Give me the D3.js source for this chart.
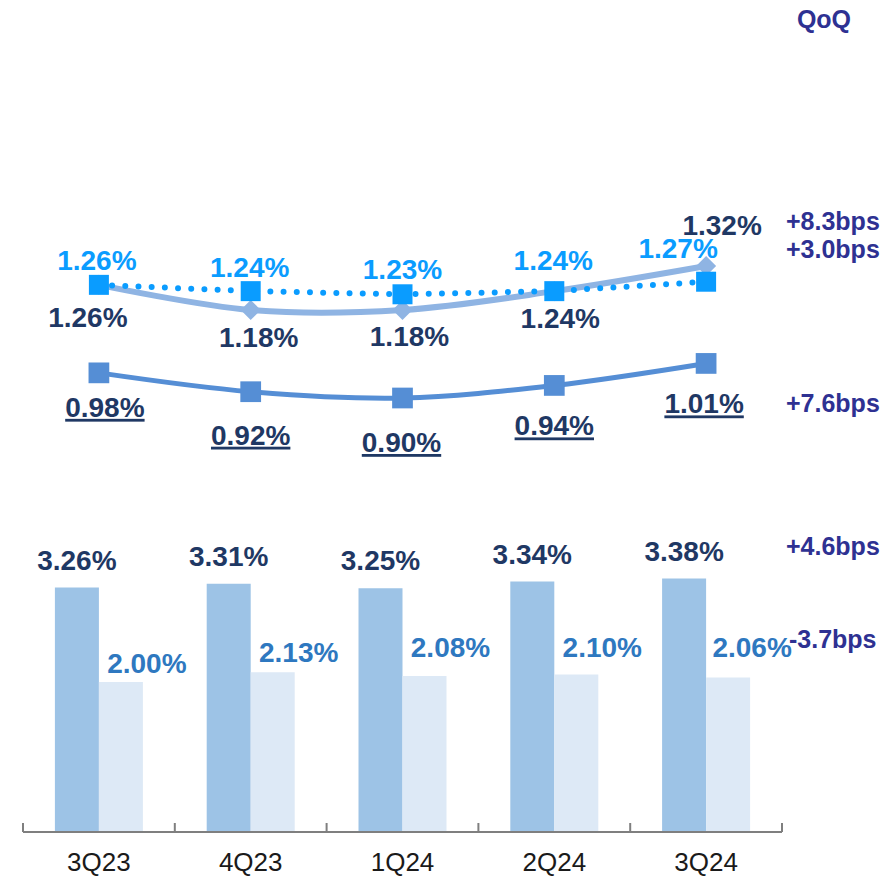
<!DOCTYPE html>
<html>
<head>
<meta charset="utf-8">
<script src="https://cdn.jsdelivr.net/npm/d3@7"></script>
<style>
  body { margin: 0; background: #fff; }
  svg { display: block; font-family: "Liberation Sans", Arial, sans-serif; }
</style>
</head>
<body>
<div id="chart"></div>
<script>
// data
const quarters = ["3Q23", "4Q23", "1Q24", "2Q24", "3Q24"]
const rateA = [1.26, 1.24, 1.23, 1.24, 1.27]   // dotted bright blue, squares
const rateB = [1.26, 1.18, 1.18, 1.24, 1.32]   // light solid line, diamonds
const rateC = [0.98, 0.92, 0.90, 0.94, 1.01]   // solid line, underlined labels
const barDark = [3.26, 3.31, 3.25, 3.34, 3.38]
const barLight = [2.00, 2.13, 2.08, 2.10, 2.06]
const qoqText = ["+8.3bps", "+3.0bps", "+7.6bps", "+4.6bps", "-3.7bps"]

const fmt = d => d.toFixed(2) + "%"

// label nudges (px) so labels sit like on the slide
const nudgeA = { dx: [-2, -1, 0, -1, -28], dy: [-15, -14, -15, -21, -24] }
const nudgeB = { dx: [-11, 8, 7, 6, 16], dy: [42, 37, 36, 37, -31] }
const nudgeC = { dx: [6, 0, -1, 0, -2], dy: [44, 53, 54, 50, 50] }
const nudgeLight = { dx: [26, 26, 26, 26, 24], dy: [-9, -10, -19, -18, -21] }

const params = {
  width: 891,
  height: 877,
  axisY: 832,
  left: 23,
  right: 782
}

const colors = {
  navy: "#1f3864",
  brightBlue: "#0a9cff",
  lineB: "#8fb4e3",
  lineC: "#558ed5",
  barDark: "#9dc3e6",
  barLight: "#dde9f6",
  barLightText: "#2e78c0",
  qoq: "#2e3192",
  axis: "#7f7f7f"
}

const svg = d3.select("#chart").append("svg")
  .attr("width", params.width)
  .attr("height", params.height)

const x = d3.scaleBand()
  .domain(quarters)
  .range([params.left, params.right])

const xs = d3.scaleBand()
  .domain([0, 1])
  .range([0, x.bandwidth()])
  .paddingInner(0)
  .paddingOuter(0.725)

const yBar = d3.scaleLinear()
  .domain([0, 4])
  .range([params.axisY, params.axisY - 300])

const yLine = d3.scaleLinear()
  .domain([0.90, 1.32])
  .range([398, 266])

const cx = q => x(q) + x.bandwidth() / 2

// ---- bars ----
const gBars = svg.append("g")
const barRows = quarters.map((q, i) => ({ q, i, dark: barDark[i], light: barLight[i] }))

gBars.selectAll("rect.dark")
  .data(barRows)
  .enter().append("rect")
  .attr("class", "dark")
  .attr("x", d => x(d.q) + xs(0))
  .attr("width", xs.bandwidth())
  .attr("y", d => yBar(d.dark))
  .attr("height", d => yBar(0) - yBar(d.dark))
  .attr("fill", colors.barDark)

gBars.selectAll("rect.light")
  .data(barRows)
  .enter().append("rect")
  .attr("class", "light")
  .attr("x", d => x(d.q) + xs(1))
  .attr("width", xs.bandwidth())
  .attr("y", d => yBar(d.light))
  .attr("height", d => yBar(0) - yBar(d.light))
  .attr("fill", colors.barLight)

gBars.selectAll("text.dark")
  .data(barRows)
  .enter().append("text")
  .attr("class", "dark")
  .attr("x", d => x(d.q) + xs(0) + xs.bandwidth() / 2)
  .attr("y", d => yBar(d.dark) - 18)
  .attr("text-anchor", "middle")
  .attr("font-size", "28px")
  .attr("font-weight", "bold")
  .attr("fill", colors.navy)
  .text(d => fmt(d.dark))

gBars.selectAll("text.light")
  .data(barRows)
  .enter().append("text")
  .attr("class", "light")
  .attr("x", d => x(d.q) + xs(1) + xs.bandwidth() / 2 + nudgeLight.dx[d.i])
  .attr("y", d => yBar(d.light) + nudgeLight.dy[d.i])
  .attr("text-anchor", "middle")
  .attr("font-size", "28px")
  .attr("font-weight", "bold")
  .attr("fill", colors.barLightText)
  .text(d => fmt(d.light))

// ---- x axis ----
const xAxisGroup = svg.append("g")
  .attr("transform", `translate(0, ${params.axisY})`)
  .call(d3.axisBottom(x).tickSize(0))
xAxisGroup.select(".domain").remove()
xAxisGroup.selectAll("text")
  .attr("y", 39)
  .attr("dy", 0)
  .attr("font-size", "26px")
  .attr("font-family", "'Liberation Sans', Arial, sans-serif")
  .attr("fill", "#1a1a1a")

xAxisGroup.append("line")
  .attr("x1", params.left).attr("x2", params.right)
  .attr("stroke", colors.axis).attr("stroke-width", 2)
xAxisGroup.selectAll("line.edge")
  .data(quarters.map(q => x(q)).concat([params.right]))
  .enter().append("line")
  .attr("class", "edge")
  .attr("x1", d => d).attr("x2", d => d)
  .attr("y1", 0).attr("y2", -9)
  .attr("stroke", colors.axis).attr("stroke-width", 2)

// ---- lines ----
const gLines = svg.append("g")
const smooth = d3.line()
  .x((d, i) => cx(quarters[i]))
  .y(d => yLine(d))
  .curve(d3.curveCatmullRom.alpha(0.5))
const straight = d3.line()
  .x((d, i) => cx(quarters[i]))
  .y(d => yLine(d))

gLines.append("path")
  .datum(rateB)
  .attr("d", smooth)
  .attr("fill", "none")
  .attr("stroke", colors.lineB)
  .attr("stroke-width", 6)

gLines.append("path")
  .datum(rateC)
  .attr("d", smooth)
  .attr("fill", "none")
  .attr("stroke", colors.lineC)
  .attr("stroke-width", 5)

gLines.selectAll("path.diamond")
  .data(rateB)
  .enter().append("path")
  .attr("class", "diamond")
  .attr("d", d3.symbol(d3.symbolSquare, 200))
  .attr("transform", (d, i) => `translate(${cx(quarters[i])},${yLine(d)}) rotate(45)`)
  .attr("fill", colors.lineB)

gLines.selectAll("path.sqC")
  .data(rateC)
  .enter().append("path")
  .attr("class", "sqC")
  .attr("d", d3.symbol(d3.symbolSquare, 430))
  .attr("transform", (d, i) => `translate(${cx(quarters[i])},${yLine(d)})`)
  .attr("fill", colors.lineC)

gLines.append("path")
  .datum(rateA)
  .attr("d", straight)
  .attr("fill", "none")
  .attr("stroke", colors.brightBlue)
  .attr("stroke-width", 6)
  .attr("stroke-linecap", "round")
  .attr("stroke-dasharray", "0 13.2")

gLines.selectAll("path.sqA")
  .data(rateA)
  .enter().append("path")
  .attr("class", "sqA")
  .attr("d", d3.symbol(d3.symbolSquare, 400))
  .attr("transform", (d, i) => `translate(${cx(quarters[i])},${yLine(d)})`)
  .attr("fill", colors.brightBlue)

// ---- line labels ----
function addLabels(cls, values, nudge, color, underline) {
  gLines.selectAll("text." + cls)
    .data(values)
    .enter().append("text")
    .attr("class", cls)
    .attr("x", (d, i) => cx(quarters[i]) + nudge.dx[i])
    .attr("y", (d, i) => yLine(d) + nudge.dy[i])
    .attr("text-anchor", "middle")
    .attr("font-size", "28px")
    .attr("font-weight", "bold")
    .attr("fill", color)
    .style("text-decoration", underline ? "underline" : null)
    .text(fmt)
}
addLabels("lblB", rateB, nudgeB, colors.navy, false)
addLabels("lblC", rateC, nudgeC, colors.navy, true)
addLabels("lblA", rateA, nudgeA, colors.brightBlue, false)

// ---- QoQ column ----
svg.append("text")
  .attr("x", 824).attr("y", 28)
  .attr("text-anchor", "middle")
  .attr("font-size", "25px")
  .attr("font-weight", "bold")
  .attr("fill", colors.qoq)
  .text("QoQ")

const qoqY = [230, 258, 412, 555, 648]
svg.selectAll("text.qoq")
  .data(qoqText)
  .enter().append("text")
  .attr("class", "qoq")
  .attr("x", (d, i) => i == 4 ? 789 : 786)
  .attr("y", (d, i) => qoqY[i])
  .attr("font-size", "25px")
  .attr("font-weight", "bold")
  .attr("fill", colors.qoq)
  .text(d => d)
</script>
</body>
</html>
